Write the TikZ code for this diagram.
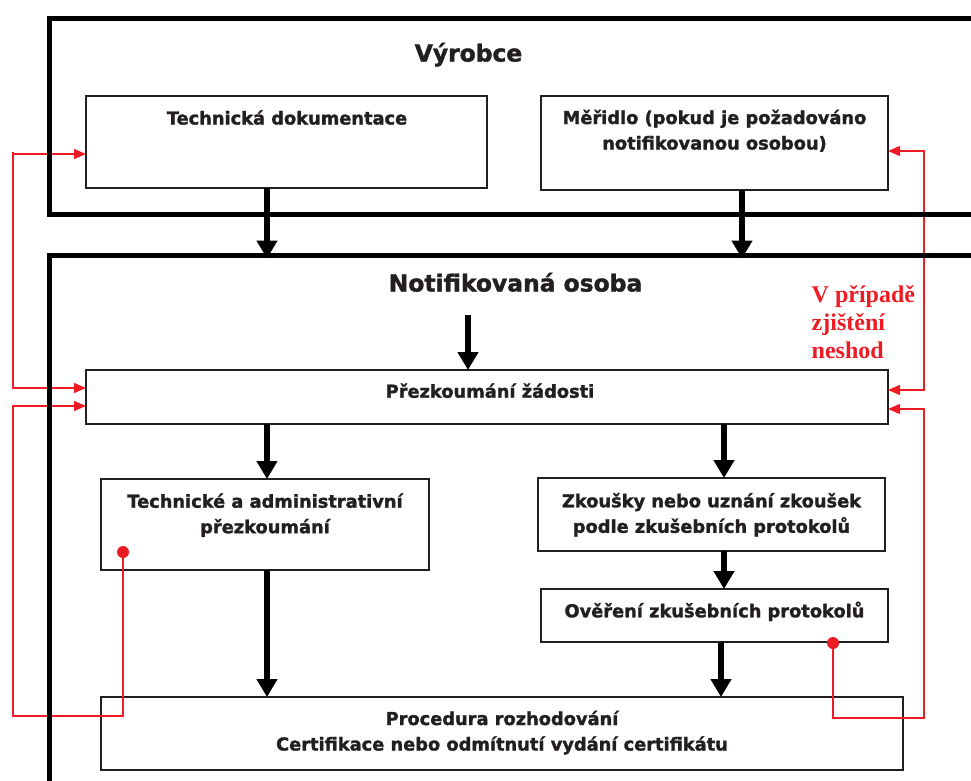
\documentclass[tikz,border=0pt]{standalone}
\usepackage{fontspec}
\setmainfont{DejaVu Sans}[BoldFeatures={FakeBold=1.6}]
\newfontfamily\redfont{Liberation Serif}
\usetikzlibrary{arrows.meta}
\definecolor{ink}{RGB}{35,31,32}
\definecolor{nred}{RGB}{237,28,36}
\newcommand{\twoln}[2]{\vtop{\halign{\hfil##\hfil\cr#1\cr#2\cr}}}
\begin{document}
\begin{tikzpicture}[x=1pt,y=-1pt,
  box/.style={draw=ink, line width=1.5pt, anchor=north west, inner sep=0pt, outer sep=0pt},
  txt/.style={text=ink, font=\fontsize{17.8}{25.5}\selectfont\bfseries, inner sep=0pt, anchor=base},
  ttl/.style={text=ink, font=\fontsize{23.4}{28}\selectfont\bfseries, inner sep=0pt, anchor=base},
  frm/.style={draw=black, line width=5pt, anchor=north west, inner sep=0pt, outer sep=0pt},
  bigarrow/.style={draw=black, line width=5.5pt, -{Triangle[width=20pt,length=18pt]}},
  redline/.style={draw=nred, line width=1.3pt},
  redtip/.tip={Triangle[width=10pt,length=12pt]},
  dot/.style={circle, fill=nred, minimum size=12pt, inner sep=0pt}]
\useasboundingbox (0,0) rectangle (971,780);
\clip (0,0) rectangle (971,780);
\fill[white] (0,0) rectangle (971,780);

% helper coordinates
\coordinate (ax1) at (267,0);
\coordinate (ax2) at (742,0);
\coordinate (ax3) at (468,0);
\coordinate (ax4) at (724,0);
\coordinate (ax5) at (721,0);
\coordinate (rl) at (13,0);
\coordinate (rr) at (924,0);
\coordinate (y154) at (0,154);
\coordinate (y388) at (0,388);
\coordinate (y406) at (0,406);
\coordinate (y716) at (0,716);
\coordinate (y151) at (0,151);
\coordinate (y390) at (0,390);
\coordinate (y409) at (0,409);
\coordinate (y718) at (0,718);
\coordinate (a3s) at (468,315);

% boxes
\node[box, minimum width=401pt, minimum height=92pt] (td) at (86,96) {};
\node[box, minimum width=347pt, minimum height=94pt] (mer) at (541,96) {};
\node[box, minimum width=802pt, minimum height=54pt] (prez) at (86,370) {};
\node[box, minimum width=328pt, minimum height=91pt] (tech) at (101,479) {};
\node[box, minimum width=347pt, minimum height=73pt] (zk) at (538,478) {};
\node[box, minimum width=347pt, minimum height=53pt] (over) at (541,589) {};
\node[box, minimum width=802pt, minimum height=73pt] (proc) at (101,697) {};

\node[dot] (dot1) at (123,552) {};
\node[dot] (dot2) at (833,643) {};

% red feedback lines
\draw[redline] (rl |- y154) -- ++(0,-2.5);
\draw[redline, redtip-redtip] (td.west |- y154) -- (rl |- y154) -- (rl |- y388) -- (prez.west |- y388);
\draw[redline, -redtip] (dot1.center) -- (dot1 |- y716) -- (rl |- y716) -- (rl |- y406) -- (prez.west |- y406);
\draw[redline, redtip-redtip] (mer.east |- y151) -- (rr |- y151) -- (rr |- y390) -- (prez.east |- y390);
\draw[redline, -redtip] (dot2.center) -- (dot2 |- y718) -- (rr |- y718) -- (rr |- y409) -- (prez.east |- y409);

% frames
\node[frm, minimum width=950pt, minimum height=196pt] (vyr) at (49.5,18) {};
\node[frm, minimum width=950pt, minimum height=565pt] (notif) at (49.5,255.5) {};

% titles
\node[ttl] (tv) at (468.5,61.5) {Výrobce};
\node[ttl] (tn) at (515.5,291.5) {Notifikovaná osoba};

% texts
\node[txt] (tdt) at (287,124.5) {Technická dokumentace};
\node[txt] (mert) at (714.5,124) {\twoln{Měřidlo (pokud je požadováno}{notifikovanou osobou)}};
\node[txt] (prezt) at (490,397.7) {Přezkoumání žádosti};
\node[txt] (techt) at (265,507.7) {\twoln{Technické a administrativní}{přezkoumání}};
\node[txt] (zkt) at (711.5,507.3) {\twoln{Zkoušky nebo uznání zkoušek}{podle zkušebních protokolů}};
\node[txt] (overt) at (714.5,617.3) {Ověření zkušebních protokolů};
\node[txt] (proct) at (502,725) {\twoln{Procedura rozhodování}{Certifikace nebo odmítnutí vydání certifikátu}};

\node[text=nred, font=\redfont\fontsize{24}{27.8}\selectfont\bfseries, inner sep=0pt, anchor=base west] (neshod) at (811.5,302.7)
  {\vtop{\halign{#\hfil\cr V případě\cr zjištění\cr neshod\cr}}};

% black arrows
\draw[bigarrow, shorten >=-3pt] (td.south -| ax1) -- (notif.north -| ax1);
\draw[bigarrow, shorten >=-3pt] (mer.south -| ax2) -- (notif.north -| ax2);
\draw[bigarrow] (a3s) -- (prez.north -| ax3);
\draw[bigarrow] (prez.south -| ax1) -- (tech.north -| ax1);
\draw[bigarrow] (prez.south -| ax4) -- (zk.north -| ax4);
\draw[bigarrow] (zk.south -| ax4) -- (over.north -| ax4);
\draw[bigarrow] (tech.south -| ax1) -- (proc.north -| ax1);
\draw[bigarrow] (over.south -| ax5) -- (proc.north -| ax5);
\end{tikzpicture}
\end{document}
